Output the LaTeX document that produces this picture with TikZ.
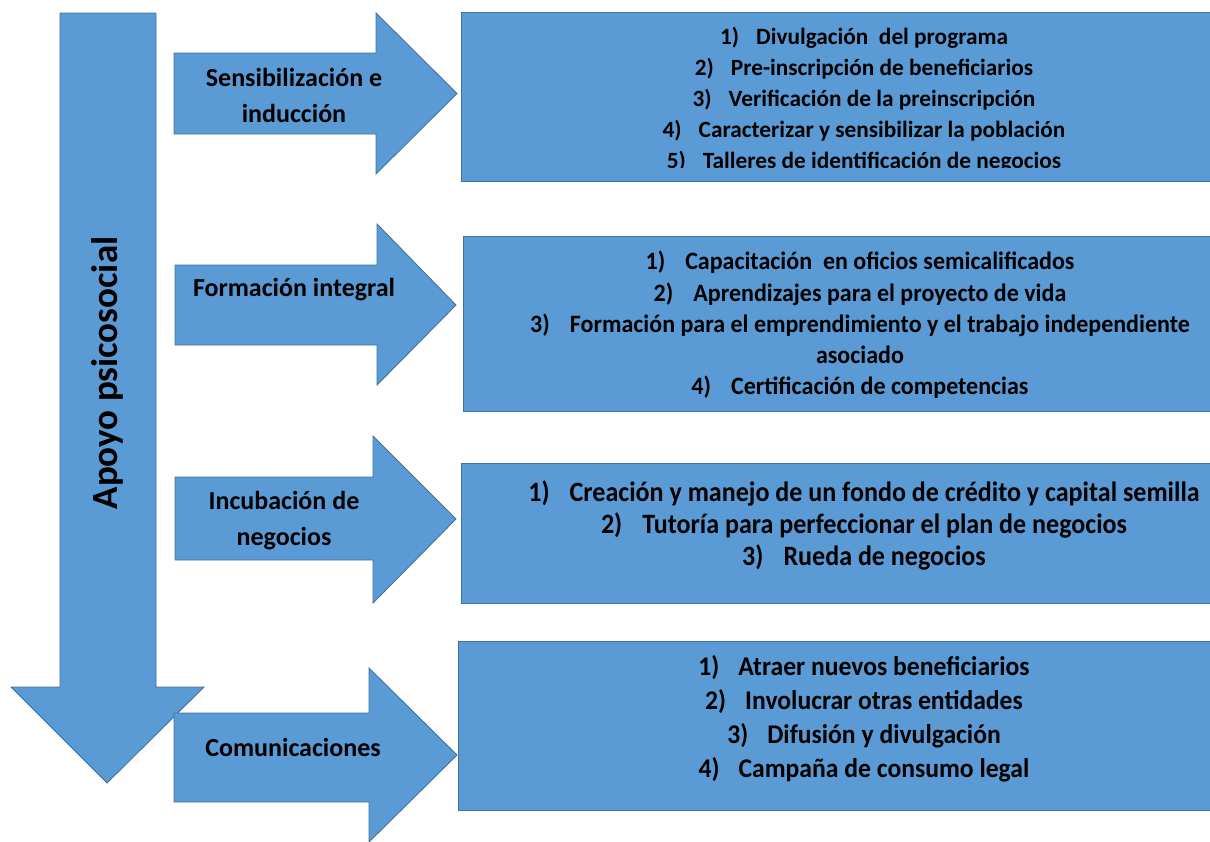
\documentclass[tikz,border=0pt]{standalone}
\usepackage{fontspec}
\setmainfont{Carlito}
\newfontfamily\condB{Carlito}[FakeStretch=0.93]
\newfontfamily\condBB{Carlito}[FakeStretch=0.96]
\newfontfamily\condC{Carlito}[FakeStretch=0.95]
\definecolor{fillblue}{HTML}{5B9BD5}
\definecolor{edgeblue}{HTML}{41719C}
\begin{document}
\begin{tikzpicture}[x=1pt,y=-1pt,
  blueshape/.style={fill=fillblue,draw=edgeblue,line width=0.9pt,line join=miter},
  txt/.style={text=black,align=center,inner sep=0pt},
  lbl/.style={txt,font=\fontsize{26}{36}\selectfont\bfseries}]
\useasboundingbox (0,0) rectangle (1210,841);
% main down arrow
\draw[blueshape] (60,13) -- (156,13) -- (156,687) -- (204,687) -- (107,783) -- (11,687) -- (60,687) -- cycle;
\node[txt,rotate=90,font=\fontsize{37}{44}\selectfont\bfseries] (apoyo) at (107,373) {Apoyo psicosocial};
% right arrows
\draw[blueshape] (174,53) -- (376,53) -- (376,13) -- (457,93.5) -- (376,174) -- (376,134) -- (174,134) -- cycle;
\draw[blueshape] (175,265) -- (377,265) -- (377,224) -- (456,305) -- (377,385) -- (377,345) -- (175,345) -- cycle;
\draw[blueshape] (175,477) -- (373,477) -- (373,436) -- (456,519) -- (373,603) -- (373,560) -- (175,560) -- cycle;
\draw[blueshape] (174,713) -- (369,713) -- (369,668) -- (457,755) -- (369,842) -- (369,802) -- (174,802) -- cycle;
\node[lbl] (l1) at (294,95) {Sensibilización e\\inducción};
\node[lbl] (l2) at (294,290) {Formación integral};
\node[lbl] (l3) at (284,521) {Incubación de\\negocios};
\node[lbl] (l4) at (293,747) {Comunicaciones};
% boxes
\draw[blueshape] (461,12) rectangle (1212,181);
\draw[blueshape] (463,236) rectangle (1212,411);
\draw[blueshape] (461,463) rectangle (1212,603);
\draw[blueshape] (458,641) rectangle (1212,810);
\begin{scope}
\clip (461,12) rectangle (1212,167);
\node[txt,font=\fontsize{23.3}{31}\selectfont\bfseries] (t1) at (864,99.5) {%
1)\hspace{17pt}Divulgación\ \ del programa\\
2)\hspace{17pt}Pre-inscripción de beneficiarios\\
3)\hspace{17pt}Verificación de la preinscripción\\
4)\hspace{17pt}Caracterizar y sensibilizar la población\\
5)\hspace{17pt}Talleres de identificación de negocios};
\end{scope}
\node[txt,font=\condBB\fontsize{25}{31.2}\selectfont\bfseries] (t2) at (860,325) {%
1)\hspace{20pt}Capacitación\ \ en oficios semicalificados\\
2)\hspace{20pt}Aprendizajes para el proyecto de vida\\
3)\hspace{20pt}Formación para el emprendimiento y el trabajo independiente\\
asociado\\
4)\hspace{20pt}Certificación de competencias};
\node[txt,font=\condB\fontsize{28}{32}\selectfont\bfseries] (t3) at (864,525) {%
1)\hspace{20pt}Creación y manejo de un fondo de crédito y capital semilla\\
2)\hspace{20pt}Tutoría para perfeccionar el plan de negocios\\
3)\hspace{20pt}Rueda de negocios};
\node[txt,font=\condC\fontsize{27}{34}\selectfont\bfseries] (t4) at (864,718.5) {%
1)\hspace{19pt}Atraer nuevos beneficiarios\\
2)\hspace{19pt}Involucrar otras entidades\\
3)\hspace{19pt}Difusión y divulgación\\
4)\hspace{19pt}Campaña de consumo legal};
\end{tikzpicture}
\end{document}
